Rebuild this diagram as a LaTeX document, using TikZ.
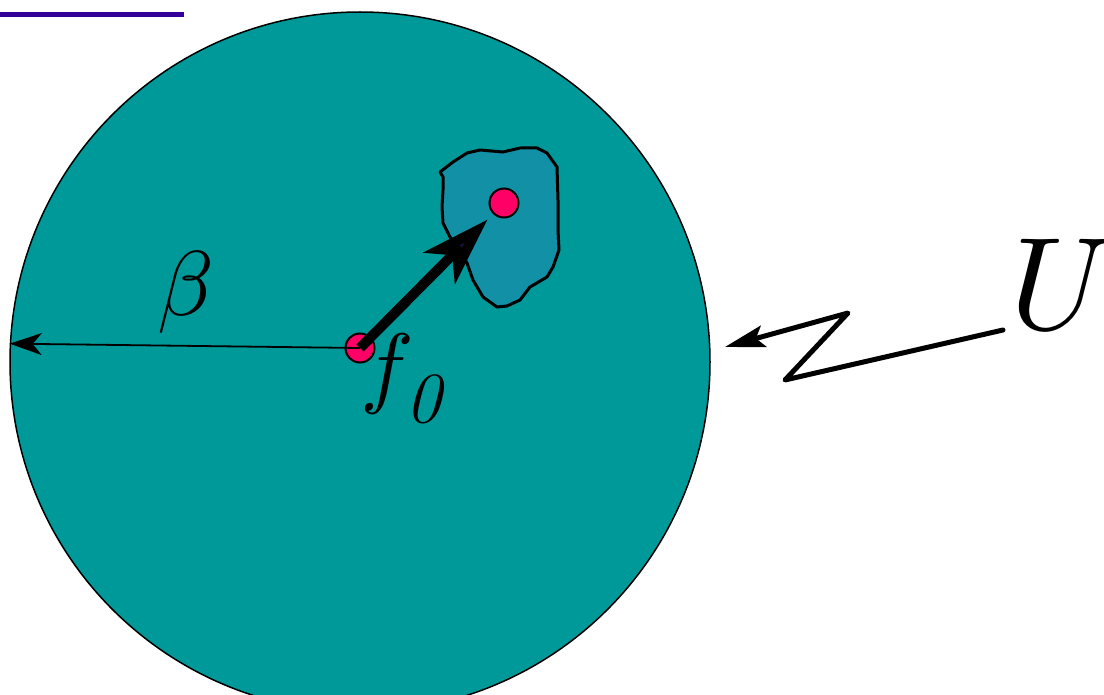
\documentclass[tikz,border=0pt]{standalone}
\usepackage{graphicx}
\usetikzlibrary{arrows.meta}
\definecolor{teal1}{HTML}{009999}
\definecolor{blobc}{HTML}{1290A6}
\definecolor{pinkc}{HTML}{FF0066}
\definecolor{barc}{HTML}{330099}
\definecolor{headc}{HTML}{15153F}
\tikzset{
  dot/.style={circle, draw=black, line width=2pt, fill=pinkc, minimum size=29pt, inner sep=0pt},
  lbl/.style={inner sep=0pt, anchor=base west},
}
\begin{document}
\begin{tikzpicture}[x=1pt,y=-1pt]
\useasboundingbox (0,0) rectangle (1104,695);
\clip (0,0) rectangle (1104,695);
% title bar
\fill[barc] (0,12) rectangle (184,17);
% disk
\node[circle, draw=black, line width=1.5pt, fill=teal1, minimum size=700pt, inner sep=0pt] (disk) at (360,362) {};
% blob
\draw[line width=3pt, fill=blobc, line join=round]
  (440,172) -- (453,162) -- (467,153) -- (480,150) -- (503,152) -- (520,148) -- (537,148)
  -- (547,153) -- (557,167) -- (558,200) -- (558,230) -- (559,250) -- (553,267) -- (547,277)
  -- (530,287) -- (520,300) -- (507,306) -- (497,307) -- (483,297) -- (473,280) -- (467,263)
  -- (457,247) -- (450,237) -- (443,223) -- (442,207) -- (443,190) -- (443,177) -- cycle;
% dots
\node[dot] (c0) at (360,348) {};
\node[dot] (c1) at (504,203) {};
% radius arrow
\draw[line width=1.8pt, -{Stealth[length=32pt,width=22pt,inset=9pt]}] (c0.center) -- (disk.177.7);
% thick arrow
\draw[line width=10pt, -{Stealth[length=68pt,width=44pt,inset=18pt,fill=headc]}, shorten >=8pt] (c0.center) -- (c1);
% labels
\node[lbl] (beta) at (157,316) {\scalebox{9.2}{$\beta$}};
\node[lbl] (f0) at (360,396) {\scalebox{9}{$f$}\raisebox{-26pt}{\fontsize{72}{75}\selectfont\itshape\hspace{-8pt}0}};
\node[lbl] (U) at (1010,330) {\scalebox{13.2}{$U$}};
% zigzag arrow
\coordinate (zs) at (1003,330);
\coordinate (z1) at (785,380);
\coordinate (z2) at (848,313);
\coordinate (zt) at (725,347);
\draw[line width=5pt, line cap=round, line join=round, -{Stealth[length=40pt,width=22pt,inset=8pt]}]
  (zs) -- (z1) -- (z2) -- (zt);
\end{tikzpicture}
\end{document}
